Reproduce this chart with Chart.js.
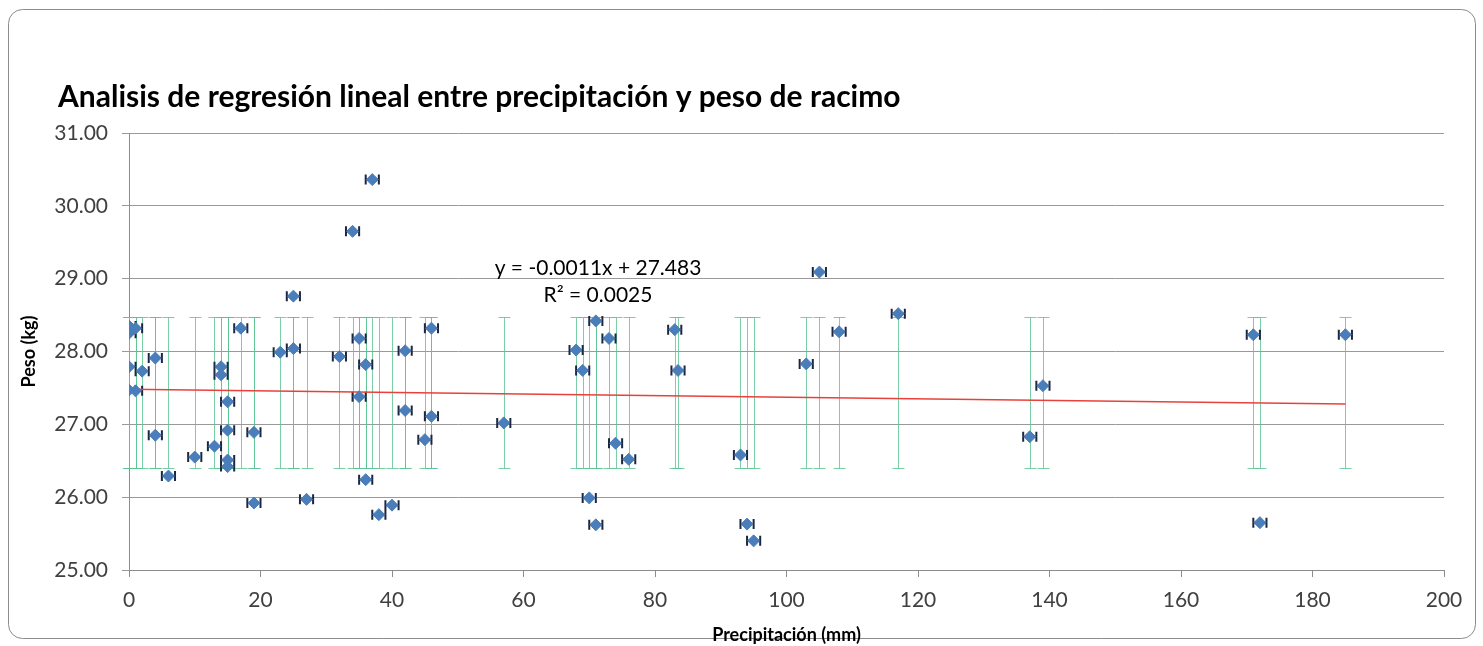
<!DOCTYPE html>
<html>
<head>
<meta charset="utf-8">
<script src="https://cdn.jsdelivr.net/npm/chart.js@4"></script>
<style>
  html, body { margin: 0; padding: 0; background: #fff; }
  #wrap { width: 1483px; height: 646px; }
</style>
</head>
<body>
<div id="wrap"><canvas id="grafico"></canvas></div>
<script>
// datos
const precipitacion = [0, 0, 1, 0, 0, 1, 2, 4, 4, 6, 10, 13, 14, 14, 15, 15, 15, 15, 17, 19, 19, 23, 25, 25, 27, 32, 34, 35, 35, 36, 36, 37, 38, 40, 42, 42, 45, 46, 46, 57, 68, 69, 70, 71, 71, 73, 74, 76, 83, 83.5, 93, 94, 95, 103, 105, 108, 117, 137, 139, 171, 172, 185];
const peso = [28.35, 28.25, 28.32, 27.79, 27.47, 27.46, 27.73, 27.91, 26.85, 26.29, 26.55, 26.70, 27.79, 27.68, 27.31, 26.92, 26.51, 26.42, 28.32, 26.89, 25.92, 27.99, 28.76, 28.04, 25.97, 27.93, 29.65, 28.18, 27.38, 27.82, 26.24, 30.36, 25.76, 25.89, 28.01, 27.19, 26.79, 28.32, 27.11, 27.02, 28.02, 27.74, 25.99, 28.42, 25.62, 28.18, 26.74, 26.52, 28.30, 27.74, 26.58, 25.63, 25.40, 27.83, 29.09, 28.27, 28.52, 26.83, 27.53, 28.23, 25.65, 28.23];

// barras de error (desv. estandar en y, fija en x)
const errYBajo = 26.40;
const errYAlto = 28.48;
const errX = 1.0;

// linea de tendencia
const pendiente = -0.0011;
const intercepto = 27.483;
const tendenciaX = [0, 185];

const ecuacion = "y = -0.0011x + 27.483";
const r2 = "R\u00B2 = 0.0025";
const titulo = "Analisis de regresión lineal entre precipitación y peso de racimo";

const fuente = "Lato, 'Open Sans', sans-serif";

const puntos = precipitacion.map((x, i) => ({ x: x, y: peso[i] }));
const tendencia = tendenciaX.map(x => ({ x: x, y: intercepto + pendiente * x }));

const marco = {
  id: "marco",
  beforeDraw(chart) {
    const ctx = chart.ctx;
    ctx.save();
    ctx.fillStyle = "#fff";
    ctx.fillRect(0, 0, chart.width, chart.height);
    ctx.strokeStyle = "#8c8c8c";
    ctx.lineWidth = 1;
    ctx.beginPath();
    ctx.roundRect(8.5, 9.5, 1467, 629, 14);
    ctx.stroke();
    ctx.fillStyle = "#000";
    ctx.font = "bold 30px " + fuente;
    ctx.textBaseline = "alphabetic";
    ctx.fillText(titulo, 58, 107);
    ctx.restore();
  }
};

const barrasError = {
  id: "barrasError",
  beforeDatasetsDraw(chart) {
    const { ctx, chartArea, scales: { x, y } } = chart;
    const yTop = Math.round(y.getPixelForValue(errYAlto)) + 0.5;
    const yBot = Math.round(y.getPixelForValue(errYBajo)) + 0.5;
    ctx.save();
    ctx.strokeStyle = "rgba(90,195,145,0.8)";
    ctx.lineWidth = 1;
    ctx.beginPath();
    precipitacion.forEach(v => {
      const px = Math.round(x.getPixelForValue(v)) + 0.5;
      ctx.moveTo(px, yTop); ctx.lineTo(px, yBot);
      ctx.moveTo(px - 6, yTop); ctx.lineTo(px + 6, yTop);
      ctx.moveTo(px - 6, yBot); ctx.lineTo(px + 6, yBot);
    });
    ctx.stroke();

    ctx.beginPath();
    ctx.rect(chartArea.left, chartArea.top, chartArea.width, chartArea.height);
    ctx.clip();
    ctx.strokeStyle = "#1b2640";
    ctx.lineWidth = 2;
    ctx.beginPath();
    puntos.forEach(p => {
      const py = y.getPixelForValue(p.y);
      const x1 = x.getPixelForValue(p.x - errX);
      const x2 = x.getPixelForValue(p.x + errX);
      ctx.moveTo(x1, py); ctx.lineTo(x2, py);
      ctx.moveTo(x1, py - 5); ctx.lineTo(x1, py + 5);
      ctx.moveTo(x2, py - 5); ctx.lineTo(x2, py + 5);
    });
    ctx.stroke();
    ctx.restore();
  },
  afterDatasetsDraw(chart) {
    const ctx = chart.ctx;
    ctx.save();
    ctx.fillStyle = "#000";
    ctx.font = "21px " + fuente;
    ctx.textAlign = "center";
    ctx.textBaseline = "middle";
    ctx.fillText(ecuacion, 598, 268);
    ctx.fillText(r2, 598, 295);
    ctx.restore();
  }
};

const ctx = document.getElementById("grafico").getContext("2d");

new Chart(ctx, {
  type: "scatter",
  data: {
    datasets: [
      {
        label: "Peso",
        data: puntos,
        pointStyle: "rectRot",
        pointRadius: 6,
        pointHoverRadius: 6,
        backgroundColor: "#4a7ebb",
        borderColor: "#4a7ebb",
        borderWidth: 1
      },
      {
        label: "Lineal",
        type: "line",
        data: tendencia,
        borderColor: "#e8413b",
        borderWidth: 1.5,
        pointRadius: 0,
        fill: false
      }
    ]
  },
  options: {
    responsive: true,
    maintainAspectRatio: false,
    animation: false,
    layout: { padding: { top: 133, right: 39, left: 0, bottom: 0 } },
    plugins: {
      legend: { display: false },
      tooltip: { enabled: false }
    },
    scales: {
      x: {
        type: "linear",
        min: 0,
        max: 200,
        afterFit: s => { s.height = 76; },
        ticks: {
          stepSize: 20,
          color: "#404040",
          padding: 11,
          font: { family: fuente, size: 21 }
        },
        grid: {
          drawOnChartArea: false,
          drawTicks: true,
          tickLength: 7,
          color: "#8c8c8c"
        },
        border: { color: "#8c8c8c" },
        title: {
          display: true,
          text: "Precipitación (mm)",
          color: "#000",
          font: { family: fuente, size: 18, weight: "bold" },
          padding: { top: 0, bottom: 0 }
        }
      },
      y: {
        min: 25,
        max: 31,
        afterFit: s => { s.width = 129; },
        ticks: {
          stepSize: 1,
          color: "#404040",
          padding: 14,
          font: { family: fuente, size: 21 },
          callback: v => v.toFixed(2)
        },
        grid: {
          color: "#9a9a9a",
          tickLength: 7
        },
        border: { color: "#8c8c8c" },
        title: {
          display: true,
          text: "Peso (kg)",
          color: "#000",
          font: { family: fuente, size: 18, weight: "bold" },
          padding: { top: 18, bottom: 0 }
        }
      }
    }
  },
  plugins: [marco, barrasError]
});
</script>
</body>
</html>
